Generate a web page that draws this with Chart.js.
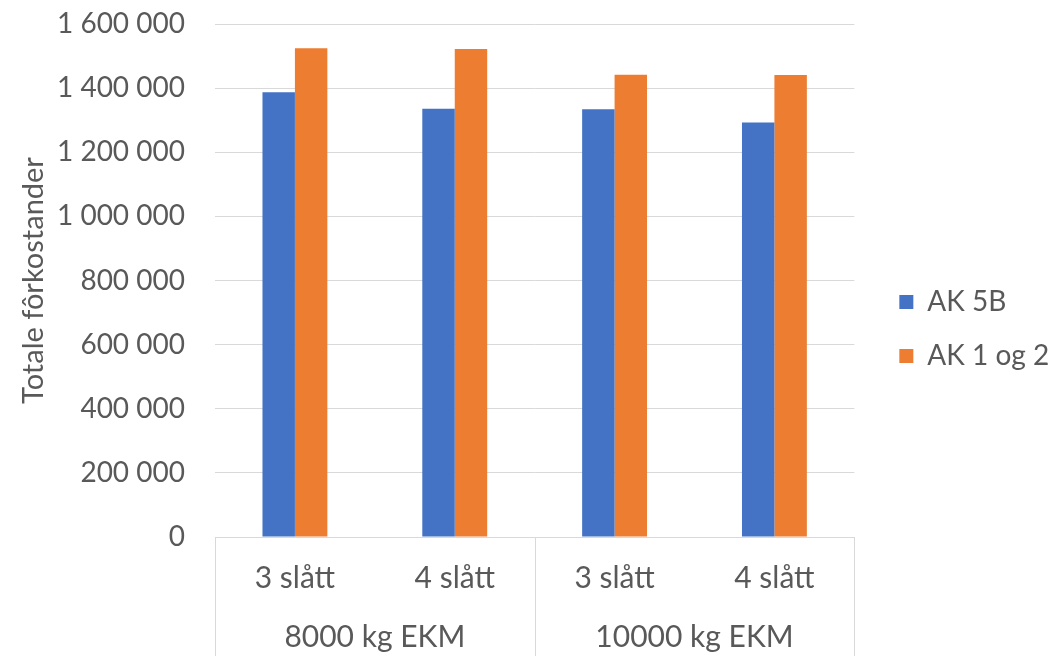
<!DOCTYPE html>
<html>
<head>
<meta charset="utf-8">
<script src="https://cdn.jsdelivr.net/npm/chart.js@4"></script>
<style>
  html, body { margin: 0; padding: 0; background: #ffffff; }
  #wrap { width: 1051px; height: 656px; }
</style>
</head>
<body>
<div id="wrap"><canvas id="c" width="1051" height="656"></canvas></div>
<script>
// ---- data ----
const categories = ['3 slått', '4 slått', '3 slått', '4 slått'];
const groups = ['8000 kg EKM', '10000 kg EKM'];
const seriesNames = ['AK 5B', 'AK 1 og 2'];
const ak5b = [1387000, 1336000, 1334000, 1293000];
const ak1og2 = [1524000, 1522000, 1442000, 1441000];
const yMin = 0;
const yMax = 1600000;
const yStep = 200000;
const yTitle = 'Totale fôrkostander';

// ---- style ----
const FONT = 'Lato, "Open Sans", sans-serif';
const TXT = '#595959';
const GRID = '#d9d9d9';

function fmt(v) {
  return String(v).replace(/\B(?=(\d{3})+(?!\d))/g, ' ');
}

const groupLines = {
  id: 'groupLines',
  afterDraw(chart) {
    const xs = chart.scales.x;
    const ca = chart.chartArea;
    const ctx = chart.ctx;
    const per = categories.length / groups.length;
    const edges = [];
    for (let g = 0; g <= groups.length; g++) {
      let px;
      if (g === 0) px = ca.left;
      else if (g === groups.length) px = ca.right;
      else px = (xs.getPixelForValue(g * per - 1) + xs.getPixelForValue(g * per)) / 2;
      edges.push(px);
    }
    ctx.save();
    ctx.strokeStyle = GRID;
    ctx.lineWidth = 1;
    edges.forEach(px => {
      const x = Math.round(px) + 0.5;
      ctx.beginPath();
      ctx.moveTo(x, ca.bottom);
      ctx.lineTo(x, chart.height);
      ctx.stroke();
    });
    ctx.restore();
  }
};

new Chart(document.getElementById('c'), {
  type: 'bar',
  data: {
    labels: categories,
    datasets: [
      { label: seriesNames[0], data: ak5b, backgroundColor: '#4472C4', borderWidth: 0 },
      { label: seriesNames[1], data: ak1og2, backgroundColor: '#ED7D31', borderWidth: 0 }
    ]
  },
  options: {
    responsive: false,
    animation: false,
    devicePixelRatio: 1,
    categoryPercentage: 0.406,
    barPercentage: 1,
    layout: { padding: { top: 2, left: 0, right: 3, bottom: 0 } },
    plugins: {
      legend: {
        position: 'right',
        labels: {
          boxWidth: 14,
          boxHeight: 14,
          padding: 26,
          color: TXT,
          font: { family: FONT, size: 28 }
        }
      },
      tooltip: { enabled: false }
    },
    scales: {
      x: {
        type: 'category',
        position: 'bottom',
        grid: { display: false, drawTicks: false },
        border: { display: true, color: GRID, width: 1 },
        ticks: { color: TXT, font: { family: FONT, size: 30 }, padding: 23, maxRotation: 0, autoSkip: false },
        afterFit: s => { s.height = 59; }
      },
      x2: {
        type: 'category',
        position: 'bottom',
        labels: groups,
        offset: true,
        grid: { display: false, drawTicks: false },
        border: { display: false },
        ticks: { color: TXT, font: { family: FONT, size: 30 }, padding: 23, maxRotation: 0, autoSkip: false },
        afterFit: s => { s.height = 60; }
      },
      y: {
        min: yMin,
        max: yMax,
        grid: { color: GRID, lineWidth: 1, drawTicks: false },
        border: { display: false },
        ticks: {
          stepSize: yStep,
          padding: 30,
          color: TXT,
          font: { family: FONT, size: 28 },
          callback: v => fmt(v)
        },
        title: {
          display: true,
          text: yTitle,
          color: TXT,
          font: { family: FONT, size: 29 },
          padding: { top: 16, bottom: 0 }
        },
        afterFit: s => { s.width = 215; s.paddingTop = 24; s.paddingBottom = 0; }
      },
      gap: {
        type: 'linear',
        position: 'right',
        display: true,
        grid: { display: false, drawTicks: false },
        border: { display: false },
        ticks: { display: false },
        afterFit: s => { s.width = 19; }
      }
    }
  },
  plugins: [groupLines]
});
</script>
</body>
</html>
